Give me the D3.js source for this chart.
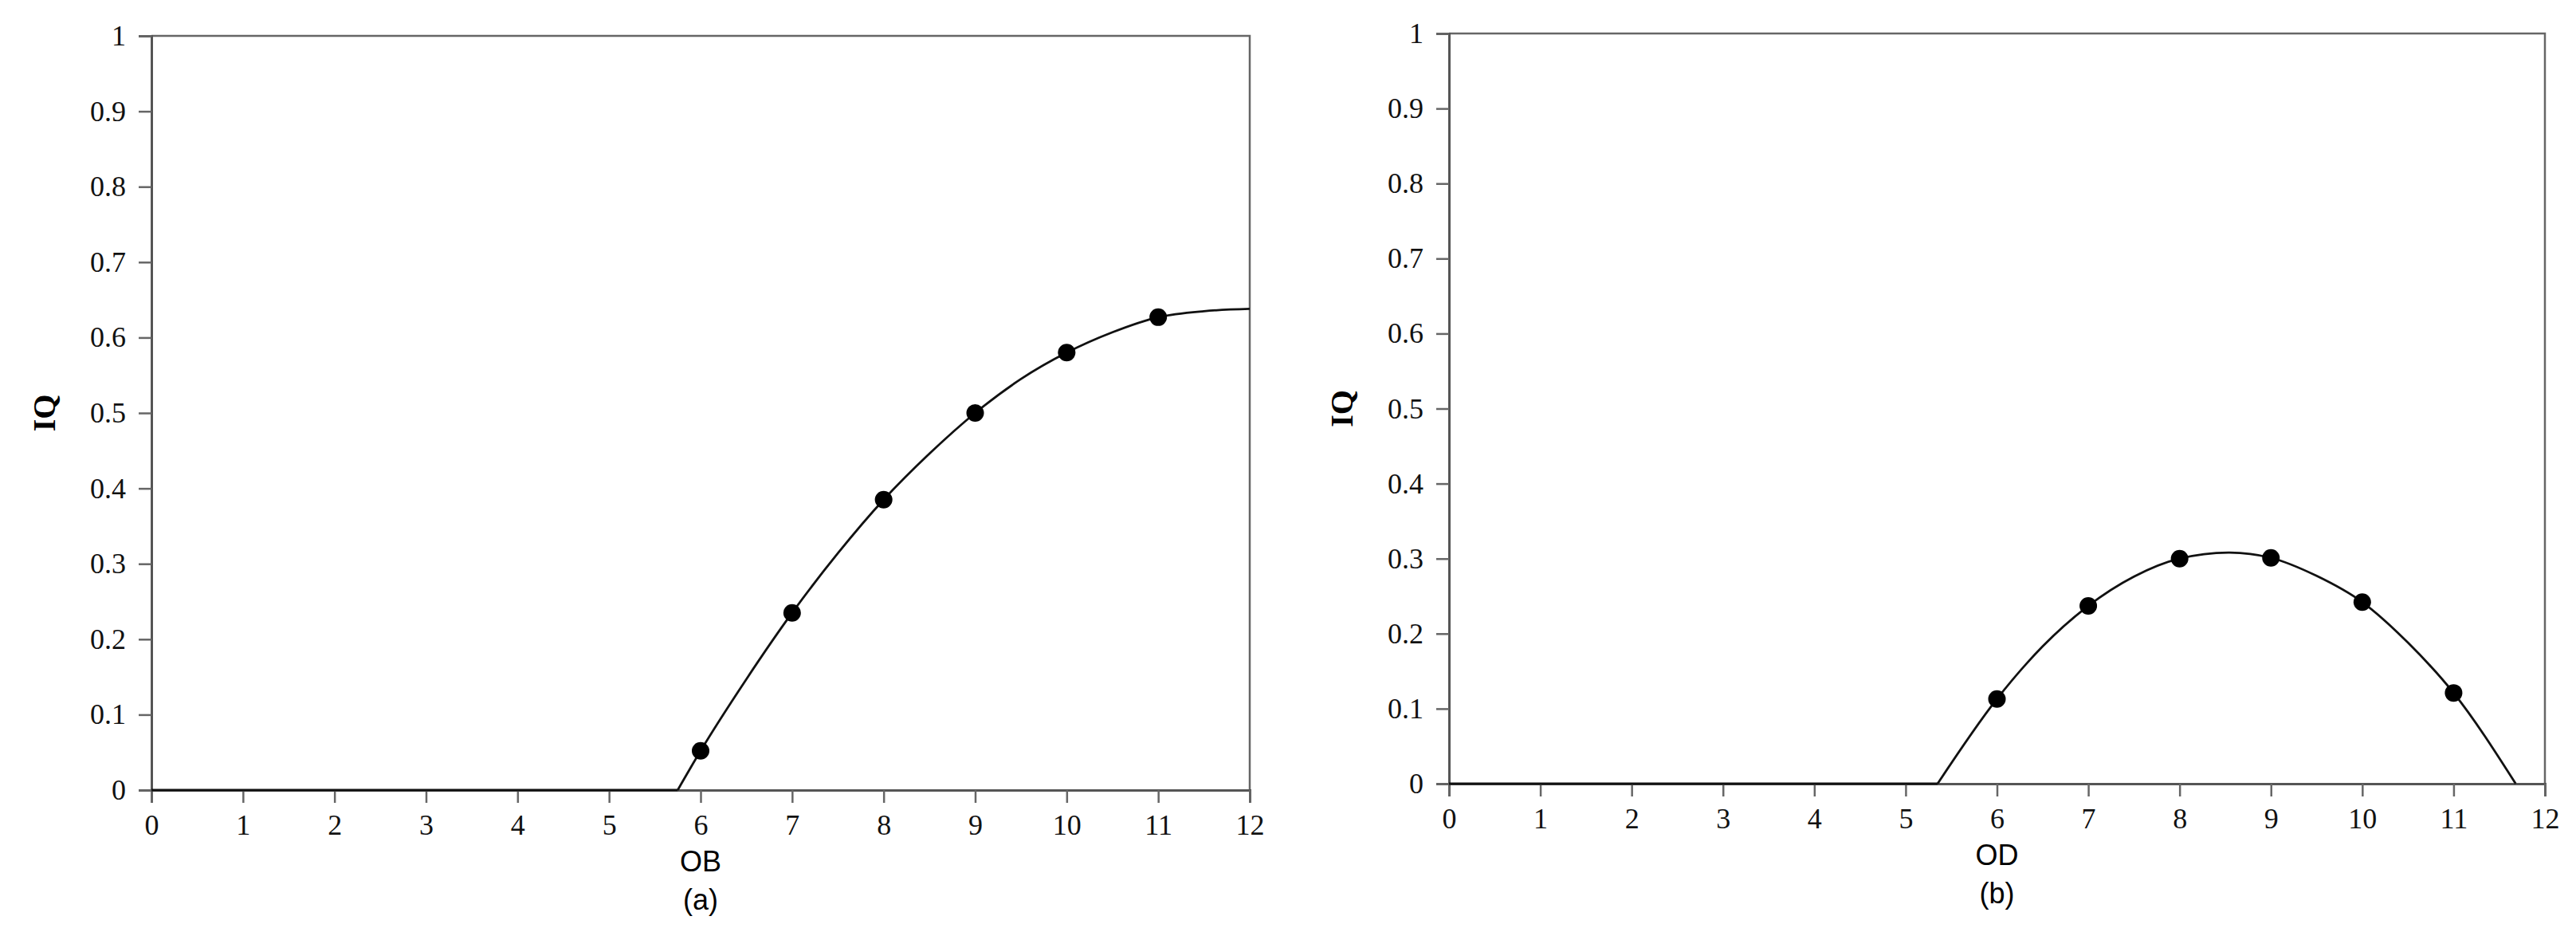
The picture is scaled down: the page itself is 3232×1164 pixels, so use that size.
<!DOCTYPE html>
<html>
<head>
<meta charset="utf-8">
<script src="https://cdn.jsdelivr.net/npm/d3@7"></script>
<style>
  body { margin: 0; background: #fff; }
  .tick text { font-family: "Liberation Serif", serif; font-size: 36px; fill: #111; }
</style>
</head>
<body>
<svg id="chart" width="3232" height="1164"></svg>
<script>
// panel (a): IQ vs OB
var obPointsX = [6, 7, 8, 9, 10, 11];
var obPointsY = [0.052, 0.235, 0.385, 0.5, 0.58, 0.627];
var obFlatX = [0, 5.75];
var obCurveX = [5.75, 6, 6.5, 7, 7.5, 8, 8.5, 9, 9.5, 10, 10.5, 11, 11.5, 12];
var obCurveY = [0, 0.052, 0.147, 0.235, 0.314, 0.385, 0.446, 0.5, 0.545, 0.58, 0.607, 0.627, 0.635, 0.638];

// panel (b): IQ vs OD
var odPointsX = [6, 7, 8, 9, 10, 11];
var odPointsY = [0.113, 0.237, 0.3, 0.301, 0.242, 0.121];
var odFlatX = [0, 5.35];
var odCurveX = [5.35, 6, 6.5, 7, 7.5, 8, 8.55, 9, 9.5, 10, 10.5, 11, 11.68];
var odCurveY = [0, 0.113, 0.183, 0.237, 0.276, 0.3, 0.308, 0.301, 0.277, 0.242, 0.188, 0.121, 0];

var xTicks = d3.range(0, 13);
var yTicks = [0, 0.1, 0.2, 0.3, 0.4, 0.5, 0.6, 0.7, 0.8, 0.9, 1];

var svg = d3.select("#chart");

function drawPanel(box, fx, cx, cy, px, py, xLabel, tag) {
  var x = d3.scaleLinear().domain([0, 12]).range([box.left, box.right]);
  var y = d3.scaleLinear().domain([0, 1]).range([box.bottom, box.top]);
  var g = svg.append("g");

  // frame top and right
  g.append("path")
    .attr("d", `M${box.left},${box.top}H${box.right}V${box.bottom}`)
    .attr("fill", "none").attr("stroke", "#666").attr("stroke-width", 2.5);

  var xa = g.append("g").attr("transform", `translate(0,${box.bottom})`)
    .call(d3.axisBottom(x).tickValues(xTicks).tickSize(16).tickPadding(14).tickFormat(d3.format("d")));
  var ya = g.append("g").attr("transform", `translate(${box.left},0)`)
    .call(d3.axisLeft(y).tickValues(yTicks).tickSize(16).tickPadding(16).tickFormat(d => d === 0 || d === 1 ? d : d3.format(".1f")(d)));
  [xa, ya].forEach(a => {
    a.select(".domain").attr("stroke", "#555").attr("stroke-width", 3);
    a.selectAll(".tick line").attr("stroke", "#666").attr("stroke-width", 2.5);
  });

  var id = "clip" + tag;
  svg.append("clipPath").attr("id", id).append("rect")
    .attr("x", box.left).attr("y", box.top).attr("width", box.right - box.left).attr("height", box.bottom - box.top + 2);
  var line = d3.line().x(d => x(d[0])).y(d => y(d[1])).curve(d3.curveMonotoneX);
  // flat zero segment, then fitted curve
  g.append("path").datum(fx.map(v => [v, 0])).attr("d", d3.line().x(d => x(d[0])).y(d => y(d[1])))
    .attr("fill", "none").attr("stroke", "#111").attr("stroke-width", 2.8);
  g.append("path").datum(d3.zip(cx, cy)).attr("d", line)
    .attr("clip-path", `url(#${id})`)
    .attr("fill", "none").attr("stroke", "#111").attr("stroke-width", 2.8);

  g.selectAll("circle.pt").data(d3.zip(px, py)).join("circle")
    .attr("cx", d => x(d[0])).attr("cy", d => y(d[1])).attr("r", 11).attr("fill", "#000");

  g.append("text")
    .attr("transform", `translate(${box.left - 130},${(box.top + box.bottom) / 2}) rotate(-90)`)
    .attr("text-anchor", "middle").attr("dominant-baseline", "middle")
    .style("font-family", "Liberation Serif, serif").style("font-weight", "bold").style("font-size", "40px")
    .text("IQ");
  g.append("text").attr("x", x(6)).attr("y", box.bottom + 102)
    .attr("text-anchor", "middle")
    .style("font-family", "Liberation Sans, Arial, sans-serif").style("font-size", "36px")
    .text(xLabel);
  g.append("text").attr("x", x(6)).attr("y", box.bottom + 150)
    .attr("text-anchor", "middle")
    .style("font-family", "Liberation Sans, Arial, sans-serif").style("font-size", "36px")
    .text("(" + tag + ")");
}

drawPanel({ left: 190, right: 1568, top: 45, bottom: 991 }, obFlatX, obCurveX, obCurveY, obPointsX, obPointsY, "OB", "a");
drawPanel({ left: 1818, right: 3193, top: 42, bottom: 983 }, odFlatX, odCurveX, odCurveY, odPointsX, odPointsY, "OD", "b");
</script>
</body>
</html>
